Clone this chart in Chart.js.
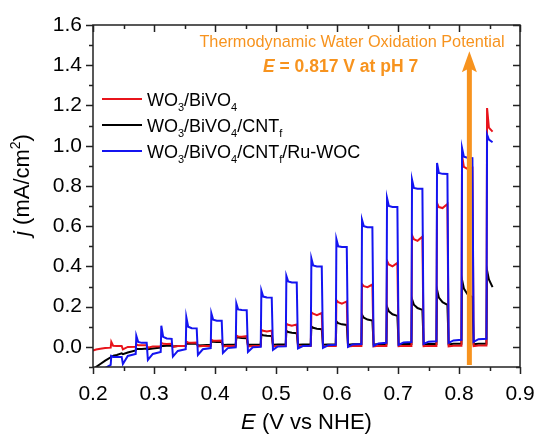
<!DOCTYPE html>
<html>
<head>
<meta charset="utf-8">
<script src="https://cdn.jsdelivr.net/npm/chart.js@4.4.1/dist/chart.umd.min.js"></script>
<style>
html, body { margin:0; padding:0; background:#ffffff; }
#wrap { width:536px; height:434px; }
</style>
</head>
<body>
<div id="wrap"><canvas id="id_chart" width="536" height="434"></canvas></div>
<script>
// chopped-light LSV
// potential (V vs NHE) shared by the three traces
var potential = [
    0.200, 0.205, 0.212, 0.220,
    0.229, 0.230, 0.233, 0.239, 0.247, 0.249, 0.257,
    0.270, 0.271, 0.274, 0.280, 0.288, 0.290, 0.298,
    0.311, 0.312, 0.315, 0.321, 0.329, 0.331, 0.339,
    0.352, 0.353, 0.356, 0.362, 0.370, 0.372, 0.380,
    0.393, 0.394, 0.397, 0.403, 0.411, 0.413, 0.421,
    0.434, 0.435, 0.438, 0.444, 0.452, 0.454, 0.462,
    0.475, 0.476, 0.479, 0.485, 0.493, 0.495, 0.503,
    0.516, 0.517, 0.520, 0.526, 0.534, 0.536, 0.544,
    0.557, 0.558, 0.561, 0.567, 0.575, 0.577, 0.585,
    0.598, 0.599, 0.602, 0.608, 0.616, 0.618, 0.626,
    0.640, 0.641, 0.644, 0.650, 0.658, 0.660, 0.668,
    0.681, 0.682, 0.685, 0.691, 0.699, 0.701, 0.709,
    0.722, 0.723, 0.726, 0.732, 0.740, 0.742, 0.750,
    0.763, 0.764, 0.767, 0.773, 0.781, 0.783, 0.791,
    0.804, 0.805, 0.808, 0.814, 0.822, 0.824, 0.832,
    0.845, 0.846, 0.849, 0.855
];
// j (mA/cm2), WO3/BiVO4
var jBiVO4 = [
    -0.018, -0.013, -0.009, -0.006,
    -0.004, 0.025, 0.006, 0.005, 0.005, -0.012, 0.000,
    0.001, 0.012, 0.008, 0.008, 0.008, -0.004, 0.002,
    0.003, 0.020, 0.015, 0.014, 0.015, 0.000, 0.004,
    0.004, 0.026, 0.022, 0.021, 0.022, 0.002, 0.004,
    0.004, 0.035, 0.031, 0.030, 0.031, 0.002, 0.004,
    0.004, 0.056, 0.052, 0.050, 0.053, 0.002, 0.004,
    0.004, 0.085, 0.080, 0.077, 0.081, 0.002, 0.004,
    0.004, 0.115, 0.110, 0.105, 0.111, 0.002, 0.004,
    0.004, 0.172, 0.165, 0.158, 0.168, 0.002, 0.004,
    0.004, 0.232, 0.222, 0.215, 0.226, 0.002, 0.004,
    0.004, 0.312, 0.302, 0.297, 0.310, 0.002, 0.005,
    0.005, 0.428, 0.410, 0.400, 0.417, 0.003, 0.005,
    0.005, 0.555, 0.535, 0.527, 0.548, 0.003, 0.005,
    0.005, 0.715, 0.695, 0.690, 0.710, 0.003, 0.006,
    0.006, 0.950, 0.895, 0.885, 0.890, 0.004, 0.007,
    0.007, 1.187, 1.090, 1.070
];
// WO3/BiVO4/CNTf
var jCNT = [
    -0.125, -0.100, -0.085, -0.068,
    -0.052, -0.045, -0.044, -0.040, -0.032, -0.036, -0.028,
    -0.018, -0.010, -0.011, -0.010, -0.008, -0.012, -0.008,
    -0.003, 0.004, 0.004, 0.005, 0.006, 0.002, 0.004,
    0.006, 0.016, 0.015, 0.015, 0.015, 0.007, 0.008,
    0.010, 0.026, 0.025, 0.024, 0.024, 0.009, 0.010,
    0.011, 0.048, 0.046, 0.044, 0.043, 0.010, 0.011,
    0.012, 0.062, 0.058, 0.055, 0.054, 0.011, 0.012,
    0.012, 0.080, 0.074, 0.070, 0.068, 0.011, 0.012,
    0.012, 0.102, 0.095, 0.090, 0.088, 0.011, 0.012,
    0.012, 0.127, 0.118, 0.112, 0.109, 0.011, 0.013,
    0.013, 0.160, 0.145, 0.136, 0.131, 0.012, 0.013,
    0.013, 0.200, 0.177, 0.162, 0.154, 0.012, 0.014,
    0.014, 0.237, 0.210, 0.193, 0.184, 0.012, 0.014,
    0.014, 0.284, 0.245, 0.222, 0.209, 0.012, 0.015,
    0.015, 0.333, 0.290, 0.262, 0.247, 0.013, 0.016,
    0.016, 0.380, 0.335, 0.297
];
// WO3/BiVO4/CNTf/Ru-WOC
var jRuWOC = [
    -0.300, -0.220, -0.150, -0.105,
    -0.090, -0.045, -0.050, -0.050, -0.050, -0.085, -0.045,
    -0.035, 0.055, 0.025, 0.020, 0.020, -0.065, -0.035,
    -0.025, 0.105, 0.050, 0.042, 0.040, -0.048, -0.020,
    -0.012, 0.147, 0.100, 0.093, 0.092, -0.040, -0.012,
    -0.006, 0.167, 0.135, 0.130, 0.130, -0.030, -0.006,
    -0.002, 0.216, 0.186, 0.183, 0.182, -0.025, -0.002,
    0.000, 0.280, 0.250, 0.246, 0.245, -0.015, 0.002,
    0.003, 0.353, 0.325, 0.320, 0.320, -0.008, 0.004,
    0.006, 0.440, 0.405, 0.400, 0.400, -0.005, 0.008,
    0.010, 0.536, 0.500, 0.496, 0.496, 0.000, 0.012,
    0.014, 0.632, 0.600, 0.595, 0.595, 0.005, 0.017,
    0.020, 0.740, 0.700, 0.695, 0.695, 0.010, 0.022,
    0.024, 0.831, 0.790, 0.786, 0.786, 0.015, 0.026,
    0.028, 0.914, 0.865, 0.860, 0.859, 0.020, 0.032,
    0.035, 0.988, 0.945, 0.940, 0.938, 0.025, 0.038,
    0.040, 1.055, 1.030, 1.017
];

var xTicks = [0.2, 0.3, 0.4, 0.5, 0.6, 0.7, 0.8, 0.9];
var yTicks = [0.0, 0.2, 0.4, 0.6, 0.8, 1.0, 1.2, 1.4, 1.6];
// "_x" = subscript, "^x" = superscript, "*..*" = italic
var seriesNames = ["WO_3/BiVO_4", "WO_3/BiVO_4/CNT_f", "WO_3/BiVO_4/CNT_f/Ru-WOC"];
var xTitle = "*E* (V vs NHE)";
var yTitle = "*j* (mA/cm^2)";
var noteLine1 = "Thermodynamic Water Oxidation Potential";
var noteLine2 = "*E* = 0.817 V at pH 7";
var E_WATER_OX = 0.817;
var ARROW_FROM = -0.09, ARROW_TO = 1.47;

var FONT = '"Liberation Sans", Arial, sans-serif';
var ORANGE = '#f7931e';

var _toPoints = function( xs, ys ){
    var i, out = [];
    for( i=0; i<xs.length; i++ ){
        out.push({ x: xs[i], y: ys[i] });
    }
    return out;
};

// split a label into runs: normal / sub / sup / italic
var _parseRich = function( str ){
    var parts = [], i, ch, italic = false, buf = "";
    var flush = function(){
        if( buf.length ){ parts.push({ t: buf, it: italic, pos: 0 }); buf = ""; }
    };
    for( i=0; i<str.length; i++ ){
        ch = str.charAt(i);
        if( ch === "*" ){
            flush(); italic = !italic;
        }else if( ch === "_" || ch === "^" ){
            flush();
            parts.push({ t: str.charAt(i+1), it: italic, pos: (ch === "_") ? 1 : -1 });
            i++;
        }else{
            buf += ch;
        }
    }
    flush();
    return parts;
};
var _fontOf = function( p, size, weight ){
    var s = p.pos ? Math.round(size * 0.62) : size;
    return (p.it ? "italic " : "") + weight + " " + s + "px " + FONT;
};
var _richWidth = function( ctx, parts, size, weight ){
    var w = 0;
    parts.forEach(function(p){
        ctx.font = _fontOf(p, size, weight);
        w += ctx.measureText(p.t).width;
    });
    return w;
};
var drawRich = function( ctx, str, x, y, size, weight, align ){
    var parts = _parseRich(str);
    var w = _richWidth(ctx, parts, size, weight);
    var cx = (align === "center") ? x - w/2 : x;
    ctx.textAlign = "left";
    ctx.textBaseline = "alphabetic";
    parts.forEach(function(p){
        var dy = 0;
        if( p.pos === 1 ) dy = size * 0.28;
        if( p.pos === -1 ) dy = -size * 0.40;
        ctx.font = _fontOf(p, size, weight);
        ctx.fillText(p.t, cx, y + dy);
        cx += ctx.measureText(p.t).width;
    });
    return w;
};

var framePlugin = {
    id: "frame",
    afterDatasetsDraw: function( chart ){
        var ctx = chart.ctx, a = chart.chartArea;
        var xs = chart.scales.x, ys = chart.scales.y;
        var i, v, px, py, len;
        ctx.save();

        // arrow at the thermodynamic potential
        px = xs.getPixelForValue(E_WATER_OX);
        var y0 = ys.getPixelForValue(ARROW_FROM), y1 = ys.getPixelForValue(ARROW_TO);
        ctx.strokeStyle = ORANGE;
        ctx.lineWidth = 5;
        ctx.beginPath();
        ctx.moveTo(px, y0);
        ctx.lineTo(px, y1 + 14);
        ctx.stroke();
        ctx.fillStyle = ORANGE;
        ctx.beginPath();
        ctx.moveTo(px, y1);
        ctx.lineTo(px + 7.5, y1 + 21);
        ctx.lineTo(px, y1 + 17);
        ctx.lineTo(px - 7.5, y1 + 21);
        ctx.closePath();
        ctx.fill();

        // frame + ticks (left/bottom out, top/right in)
        ctx.strokeStyle = "#222222";
        ctx.lineWidth = 1.5;
        ctx.strokeRect(a.left, a.top, a.right - a.left, a.bottom - a.top);
        ctx.beginPath();
        for( i=0; i<=14; i++ ){
            v = 0.2 + i * 0.05;
            px = Math.round(xs.getPixelForValue(v)) + 0.5;
            len = (i % 2 === 0) ? 7 : 4;
            ctx.moveTo(px, a.bottom); ctx.lineTo(px, a.bottom + len);
            ctx.moveTo(px, a.top);    ctx.lineTo(px, a.top + len);
        }
        for( i=0; i<=17; i++ ){
            v = -0.1 + i * 0.1;
            py = Math.round(ys.getPixelForValue(v)) + 0.5;
            len = (i % 2 === 1) ? 7 : 4;
            ctx.moveTo(a.left, py);  ctx.lineTo(a.left - len, py);
            ctx.moveTo(a.right, py); ctx.lineTo(a.right - len, py);
        }
        ctx.stroke();
        ctx.restore();
    },
    afterDraw: function( chart ){
        var ctx = chart.ctx, a = chart.chartArea;
        var sets = chart.data.datasets;
        var i, y;
        ctx.save();
        ctx.fillStyle = "#000000";

        // legend
        for( i=0; i<seriesNames.length; i++ ){
            y = 99 + i * 26;
            ctx.strokeStyle = sets[i].borderColor;
            ctx.lineWidth = 2;
            ctx.beginPath();
            ctx.moveTo(102, y); ctx.lineTo(142, y);
            ctx.stroke();
            ctx.fillStyle = "#000000";
            drawRich(ctx, seriesNames[i], 147, y + 6.5, 18, "normal", "left");
        }

        // annotation
        ctx.fillStyle = ORANGE;
        drawRich(ctx, noteLine1, 352, 47, 16.3, "normal", "center");
        drawRich(ctx, noteLine2, 263, 72, 17.5, "bold", "left");

        // axis titles
        ctx.fillStyle = "#000000";
        drawRich(ctx, xTitle, (a.left + a.right) / 2, 429, 22, "normal", "center");
        ctx.translate(29, 185);
        ctx.rotate(-Math.PI / 2);
        drawRich(ctx, yTitle, 0, 0, 22, "normal", "center");
        ctx.restore();
    }
};

var ctx = document.getElementById("id_chart").getContext("2d");
var myChart = new Chart(ctx, {
    type: "line",
    data: {
        datasets: [
            {
                label: "WO3/BiVO4",
                data: _toPoints(potential, jBiVO4),
                borderColor: "#e8141b",
                order: 1
            },
            {
                label: "WO3/BiVO4/CNTf",
                data: _toPoints(potential, jCNT),
                borderColor: "#000000",
                order: 2
            },
            {
                label: "WO3/BiVO4/CNTf/Ru-WOC",
                data: _toPoints(potential, jRuWOC),
                borderColor: "#1414f0",
                order: 0
            }
        ]
    },
    options: {
        responsive: false,
        animation: false,
        devicePixelRatio: 1,
        layout: { padding: { left: 0, top: 25, right: 16, bottom: 0 } },
        datasets: {
            line: { borderWidth: 2, pointRadius: 0, tension: 0, clip: 0, fill: false }
        },
        plugins: {
            legend: { display: false },
            tooltip: { enabled: false }
        },
        scales: {
            x: {
                type: "linear",
                min: 0.2,
                max: 0.9,
                afterBuildTicks: function( s ){
                    s.ticks = xTicks.map(function(v){ return { value: v }; });
                },
                afterFit: function( s ){
                    s.height = 67;
                    s.paddingLeft = 0; s.paddingRight = 0;
                },
                grid: { display: false, drawTicks: false },
                border: { display: false },
                ticks: {
                    padding: 15,
                    color: "#000000",
                    font: { family: FONT, size: 21 },
                    maxRotation: 0,
                    callback: function( v ){ return v.toFixed(1); }
                }
            },
            y: {
                type: "linear",
                min: -0.1,
                max: 1.6,
                afterBuildTicks: function( s ){
                    s.ticks = yTicks.map(function(v){ return { value: v }; });
                },
                afterFit: function( s ){
                    s.width = 93;
                    s.paddingTop = 0; s.paddingBottom = 0;
                },
                grid: { display: false, drawTicks: false },
                border: { display: false },
                ticks: {
                    padding: 11,
                    color: "#000000",
                    font: { family: FONT, size: 21 },
                    callback: function( v ){ return v.toFixed(1); }
                }
            }
        }
    },
    plugins: [ framePlugin ]
});
</script>
</body>
</html>
